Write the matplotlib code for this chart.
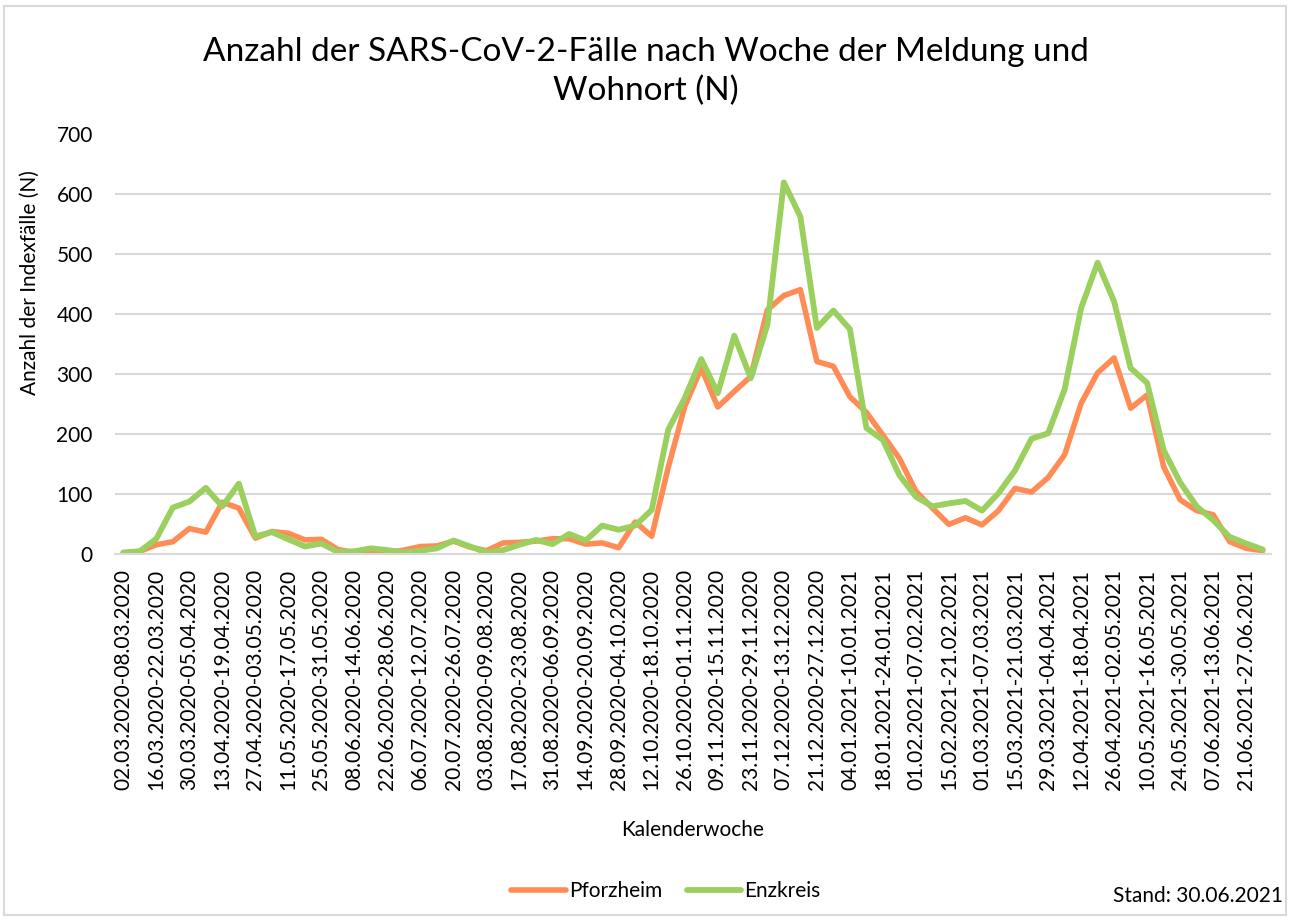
import matplotlib
matplotlib.use("Agg")
import matplotlib.pyplot as plt
from matplotlib.patches import Rectangle
import datetime as dt

plt.rcParams['font.family'] = ['Lato', 'DejaVu Sans']

# ---- data ----
start = dt.date(2020, 3, 2)
weeks = [start + dt.timedelta(weeks=i) for i in range(70)]
categories = [f"{d:%d.%m.%Y}-{(d + dt.timedelta(days=6)):%d.%m.%Y}" for d in weeks]

pforzheim = [1, 4, 15, 20, 42, 36, 86, 76, 26, 37,
             34, 23, 24, 7, 2, 3, 2, 6, 12, 13,
             21, 11, 5, 18, 19, 21, 25, 25, 16, 18,
             10, 53, 29, 144, 246, 310, 245, 271, 296, 407,
             431, 441, 321, 313, 262, 236, 198, 159, 104, 76,
             49, 60, 48, 72, 109, 103, 127, 165, 251, 302,
             327, 243, 265, 145, 90, 72, 65, 20, 9, 5]

enzkreis = [2, 4, 25, 77, 87, 110, 79, 117, 29, 36,
            24, 12, 17, 3, 4, 9, 6, 2, 5, 9,
            22, 12, 2, 6, 15, 23, 16, 33, 22, 47,
            40, 47, 73, 207, 260, 325, 268, 364, 293, 382,
            620, 563, 377, 406, 375, 210, 190, 131, 95, 79,
            84, 88, 72, 101, 139, 192, 201, 274, 410, 486,
            421, 310, 285, 173, 119, 79, 56, 28, 17, 7]

series_names = ["Pforzheim", "Enzkreis"]
colors = ["#FF8C55", "#9BCF5E"]

title = "Anzahl der SARS-CoV-2-Fälle nach Woche der Meldung und\nWohnort (N)"
xlabel = "Kalenderwoche"
ylabel = "Anzahl der Indexfälle (N)"
note = "Stand: 30.06.2021"

# ---- figure ----
W, H = 1290, 919
fig = plt.figure(figsize=(W / 100, H / 100), dpi=100)
ax = fig.add_axes([115 / W, 1 - 553.7 / H, (1271 - 115) / W, (553.7 - 134.5) / H])

x = list(range(len(categories)))
ax.plot(x, pforzheim, color=colors[0], lw=4.0, label=series_names[0],
        solid_joinstyle='round', solid_capstyle='round')
ax.plot(x, enzkreis, color=colors[1], lw=4.2, label=series_names[1],
        solid_joinstyle='round', solid_capstyle='round')

ax.set_xlim(-0.5, len(categories) - 0.5)
ax.set_ylim(0, 700)
ax.set_yticks(range(0, 701, 100))
ax.grid(axis='y', color='#D9D9D9', lw=1.5)
ax.set_axisbelow(True)
for s in ['top', 'right', 'left']:
    ax.spines[s].set_visible(False)
ax.spines['bottom'].set_color('#D9D9D9')
ax.spines['bottom'].set_linewidth(1.5)
ax.set_xticks(x[::2])
ax.set_xticklabels(categories[::2], rotation=90, fontsize=15, color='#000000')
ax.tick_params(axis='x', length=0, pad=11)
ax.tick_params(axis='y', length=0, pad=16, labelsize=15)

fig.text(646 / W, 1 - 72 / H, title, ha='center', va='center', fontsize=24,
         linespacing=1.35)
fig.text(30 / W, 1 - 283 / H, ylabel, rotation=90, ha='center', va='center', fontsize=15)
fig.text(693 / W, 1 - 830 / H, xlabel, ha='center', va='center', fontsize=15)
fig.text(1283 / W, 1 - 896 / H, note, ha='right', va='center', fontsize=15)

fig.legend(loc='center', bbox_to_anchor=(666 / W, 1 - 891 / H), ncol=2, frameon=False,
           fontsize=15, handlelength=2.6, handletextpad=0.15, columnspacing=1.2)

fig.patches.append(Rectangle((4 / W, 4 / H), (W - 8) / W, (H - 10) / H, transform=fig.transFigure,
                             fill=False, edgecolor='#D9D9D9', lw=1.5))

fig.savefig("out.png", dpi=100)
